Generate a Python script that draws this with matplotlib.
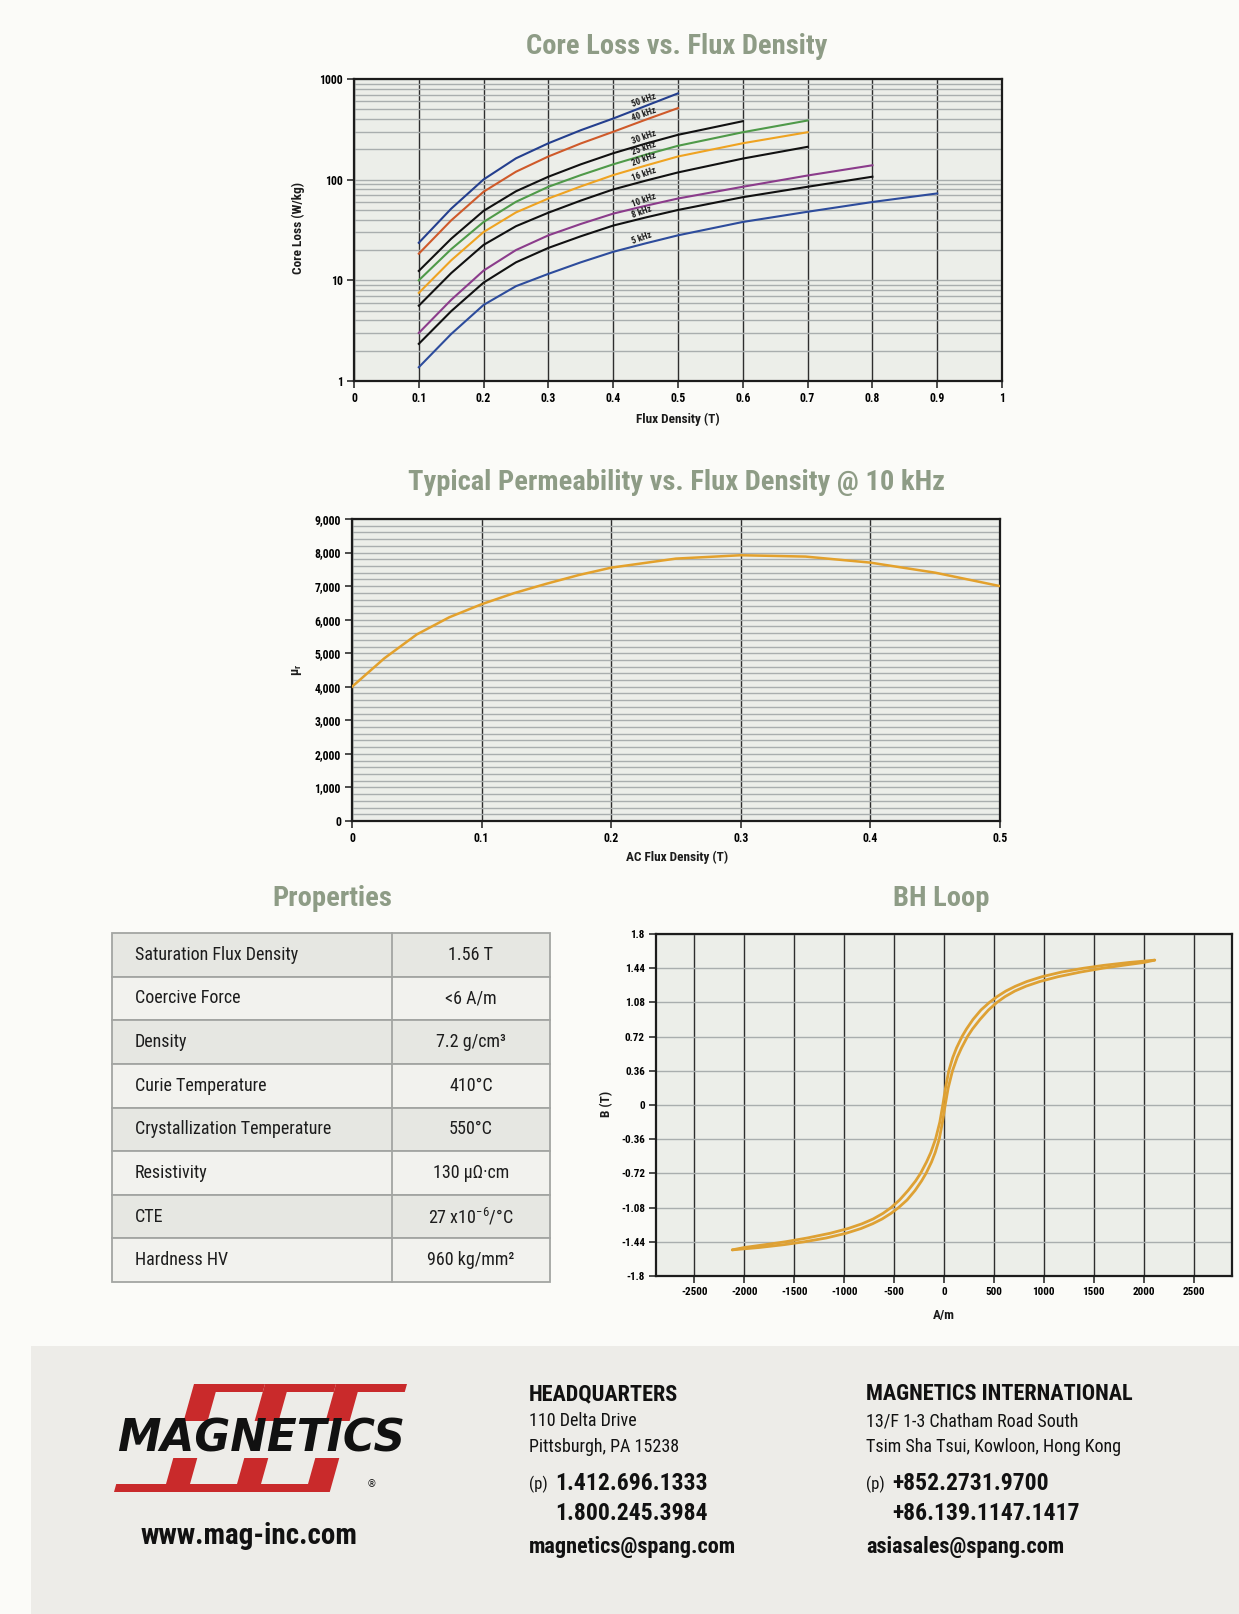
import os
import numpy as np
import matplotlib
matplotlib.use("Agg")
import matplotlib.pyplot as plt
from matplotlib.font_manager import FontProperties, fontManager
from matplotlib.patches import Rectangle, Polygon
from matplotlib.ticker import FixedLocator, NullFormatter, MultipleLocator

# ---------------------------------------------------------------- data
core_flux = [0.1, 0.15, 0.2, 0.25, 0.3, 0.35, 0.4, 0.45, 0.5, 0.6, 0.7, 0.8, 0.9]
loss_50k = [23.6, 51.5, 100.5, 163, 230, 310, 405, 540, 720]
loss_40k = [18.4, 39.4, 75.9, 120, 170, 229, 299, 394, 514]
loss_30k = [12.4, 25.9, 49, 76.7, 107, 142, 183, 228, 279, 381]
loss_25k = [10.0, 20.4, 38, 60.3, 85, 111, 142, 177, 217, 296, 387]
loss_20k = [7.5, 15.8, 30.2, 47.3, 65, 85.7, 111, 138, 170, 230, 296]
loss_16k = [5.6, 11.8, 22.5, 34.5, 47, 62, 80, 97.7, 118, 162, 212]
loss_10k = [3.0, 6.4, 12.5, 20, 28, 36.3, 46, 55, 65, 85, 110, 139]
loss_8k = [2.34, 4.94, 9.5, 15.1, 21, 27.4, 35, 42.1, 50, 67, 85, 107]
loss_5k = [1.37, 2.93, 5.7, 8.75, 11.6, 15.1, 19.2, 23.3, 28, 38, 48, 60, 73]
freq_labels = ["50 kHz", "40 kHz", "30 kHz", "25 kHz", "20 kHz",
               "16 kHz", "10 kHz", "8 kHz", "5 kHz"]

core_xticks = [0, 0.1, 0.2, 0.3, 0.4, 0.5, 0.6, 0.7, 0.8, 0.9, 1.0]
core_xlabels = ["0", "0.1", "0.2", "0.3", "0.4", "0.5", "0.6", "0.7", "0.8", "0.9", "1"]
core_yticks = [1, 10, 100, 1000]
core_ylabels = ["1", "10", "100", "1000"]

perm_flux = [0, 0.025, 0.05, 0.075, 0.1, 0.125, 0.15, 0.175, 0.2,
             0.25, 0.3, 0.35, 0.4, 0.45, 0.5]
perm_mu = [4000, 4850, 5560, 6070, 6460, 6790, 7070, 7330, 7550,
           7820, 7920, 7880, 7700, 7400, 7000]
perm_xticks = [0, 0.1, 0.2, 0.3, 0.4, 0.5]
perm_xlabels = ["0", "0.1", "0.2", "0.3", "0.4", "0.5"]
perm_yticks = [0, 1000, 2000, 3000, 4000, 5000, 6000, 7000, 8000, 9000]
perm_ylabels = ["0", "1,000", "2,000", "3,000", "4,000", "5,000",
                "6,000", "7,000", "8,000", "9,000"]

# descending branch (from +saturation down to -saturation)
bh_desc_B = [1.525, 1.50, 1.47, 1.44, 1.40, 1.35, 1.30, 1.25, 1.20, 1.14, 1.08,
             1.00, 0.90, 0.80, 0.72, 0.60, 0.50, 0.36, 0.18, 0.0,
             -0.18, -0.36, -0.50, -0.60, -0.72, -0.80, -0.90, -1.00, -1.08,
             -1.14, -1.20, -1.25, -1.30, -1.35, -1.40, -1.44, -1.47, -1.50, -1.525]
bh_desc_H = [2110, 1850, 1600, 1400, 1180, 980, 830, 715, 620, 530, 455,
             370, 290, 225, 180, 125, 88, 48, 15, -12,
             -42, -85, -132, -175, -235, -285, -360, -445, -530,
             -610, -710, -820, -960, -1140, -1370, -1590, -1790, -2000, -2120]
# ascending branch (from -saturation up to +saturation)
bh_asc_B = [-1.525, -1.50, -1.47, -1.44, -1.40, -1.35, -1.30, -1.25, -1.20, -1.14,
            -1.08, -1.00, -0.90, -0.80, -0.72, -0.60, -0.50, -0.36, -0.18, 0.0,
            0.18, 0.36, 0.50, 0.60, 0.72, 0.80, 0.90, 1.00, 1.08,
            1.14, 1.20, 1.25, 1.30, 1.35, 1.40, 1.44, 1.47, 1.50, 1.525]
bh_asc_H = [-2120, -1850, -1600, -1400, -1180, -980, -830, -715, -620, -530,
            -455, -370, -290, -225, -180, -125, -88, -48, -15, 12,
            42, 85, 132, 175, 235, 285, 360, 445, 530,
            610, 710, 820, 960, 1140, 1370, 1590, 1790, 2000, 2110]
bh_xticks = [-2500, -2000, -1500, -1000, -500, 0, 500, 1000, 1500, 2000, 2500]
bh_xlabels = ["-2500", "-2000", "-1500", "-1000", "-500", "0",
              "500", "1000", "1500", "2000", "2500"]
bh_yticks = [-1.8, -1.44, -1.08, -0.72, -0.36, 0, 0.36, 0.72, 1.08, 1.44, 1.8]
bh_ylabels = ["-1.8", "-1.44", "-1.08", "-0.72", "-0.36", "0",
              "0.36", "0.72", "1.08", "1.44", "1.8"]

prop_names = ["Saturation Flux Density", "Coercive Force", "Density",
              "Curie Temperature", "Crystallization Temperature",
              "Resistivity", "CTE", "Hardness HV"]
prop_values = ["1.56 T", "<6 A/m", "7.2 g/cm³", "410°C", "550°C",
               "130 μΩ·cm", r"27 x10$^{\mathregular{-6}}$/°C", "960 kg/mm²"]

# ---------------------------------------------------------------- fonts
_by_base = {os.path.basename(f.fname).lower(): f.fname for f in fontManager.ttflist}


def _pick(names, bold):
    for n in names:
        if n.lower() in _by_base:
            return _by_base[n.lower()]
    for base, path in _by_base.items():
        if ("condensed" in base or "narrow" in base) and "italic" not in base \
                and "oblique" not in base and ("bold" in base) == bold \
                and "semi" not in base and "extra" not in base and "light" not in base:
            return path
    return None


REG = _pick(["LiberationSansNarrow-Regular.ttf", "RobotoCondensed-Regular.ttf",
             "NotoSans-Condensed.ttf", "DejaVuSansCondensed.ttf"], False)
BOLD = _pick(["LiberationSansNarrow-Bold.ttf", "RobotoCondensed-Bold.ttf",
              "NotoSans-CondensedBold.ttf", "DejaVuSansCondensed-Bold.ttf"], True)


def fp(bold=False, size=10):
    path = BOLD if bold else REG
    if path:
        return FontProperties(fname=path, size=size)
    return FontProperties(family="DejaVu Sans", weight="bold" if bold else "normal",
                          size=size)


# ---------------------------------------------------------------- colours
PAGE = "#fbfbf8"
PLOT_BG = "#eceee9"
TITLE = "#8e9c86"
VGRID = "#2e2e2e"
HGRID = "#a9aeae"
DARK = "#1c1c1c"
FOOT = "#edece8"
curve_colors = ["#243f8e", "#cf5a2a", "#111111", "#4f9a49", "#efa321",
                "#111111", "#8b3c8b", "#111111", "#2d4c9c"]

W, H = 1239, 1614
DPI = 100
fig = plt.figure(figsize=(W / DPI, H / DPI), dpi=DPI, facecolor=PAGE)

bg = fig.add_axes([0, 0, 1, 1])
bg.set_xlim(0, W)
bg.set_ylim(H, 0)
bg.axis("off")
bg.set_zorder(-5)


def box(l, t, r, b):
    return [l / W, 1 - b / H, (r - l) / W, (b - t) / H]


def frame(ax):
    for s in ax.spines.values():
        s.set_color(DARK)
        s.set_linewidth(1.6)
    ax.tick_params(which="major", direction="out", length=5, width=1.1,
                   color=DARK, pad=3)
    ax.tick_params(which="minor", length=0)


# ================================================================ Core loss
bg.text(677, 46, "Core Loss vs. Flux Density", ha="center", va="center",
        fontproperties=fp(True, 20.5), color=TITLE)
ax1 = fig.add_axes(box(354, 79, 1002, 381))
ax1.set_facecolor(PLOT_BG)
ax1.set_yscale("log")
ax1.set_xlim(0, 1)
ax1.set_ylim(1, 1000)
ax1.yaxis.set_major_locator(FixedLocator(core_yticks))
ax1.yaxis.set_minor_locator(FixedLocator(
    [m * d for d in (1, 10, 100) for m in range(2, 10)]))
ax1.yaxis.set_minor_formatter(NullFormatter())
ax1.set_yticks(core_yticks, core_ylabels, fontproperties=fp(True, 8.5))
ax1.set_xticks(core_xticks, core_xlabels, fontproperties=fp(True, 8.5))
ax1.grid(which="both", axis="y", color=HGRID, lw=1.0)
ax1.grid(which="major", axis="x", color=VGRID, lw=1.0)
ax1.set_axisbelow(True)
frame(ax1)

series = [loss_50k, loss_40k, loss_30k, loss_25k, loss_20k,
          loss_16k, loss_10k, loss_8k, loss_5k]
for vals, c in zip(series, curve_colors):
    ax1.plot(core_flux[:len(vals)], vals, color=c, lw=1.5, zorder=3,
             solid_joinstyle="round")

label_pos = [(0.448, 610), (0.448, 448), (0.448, 262), (0.448, 207), (0.448, 159),
             (0.448, 112), (0.448, 62), (0.444, 48), (0.444, 26.5)]
for txt, (lx, ly) in zip(freq_labels, label_pos):
    ax1.text(lx, ly, txt, rotation=20, ha="center", va="center",
             fontproperties=fp(True, 6.5), color=DARK, zorder=4)

bg.text(298, 228, "Core Loss (W/kg)", rotation=90, ha="center", va="center",
        fontproperties=fp(True, 9.5), color=DARK)
bg.text(678, 419, "Flux Density (T)", ha="center", va="center",
        fontproperties=fp(True, 9.5), color=DARK)

# ================================================================ Permeability
bg.text(677, 483, "Typical Permeability vs. Flux Density @ 10 kHz", ha="center",
        va="center", fontproperties=fp(True, 20.5), color=TITLE)
ax2 = fig.add_axes(box(352, 519, 1000, 821))
ax2.set_facecolor(PLOT_BG)
ax2.set_xlim(0, 0.5)
ax2.set_ylim(0, 9000)
ax2.set_xticks(perm_xticks, perm_xlabels, fontproperties=fp(True, 8.5))
ax2.set_yticks(perm_yticks, perm_ylabels, fontproperties=fp(True, 8.5))
ax2.yaxis.set_minor_locator(MultipleLocator(200))
ax2.grid(which="both", axis="y", color=HGRID, lw=1.0)
ax2.grid(which="major", axis="x", color=VGRID, lw=1.0)
ax2.set_axisbelow(True)
frame(ax2)
ax2.plot(perm_flux, perm_mu, color="#e3a12c", lw=1.8, zorder=3,
         solid_joinstyle="round")
bg.text(297, 670, r"μ$_{\mathregular{r}}$", rotation=90, ha="center", va="center",
        fontproperties=fp(True, 9.5), color=DARK)
bg.text(677, 857, "AC Flux Density (T)", ha="center", va="center",
        fontproperties=fp(True, 9.5), color=DARK)

# ================================================================ Properties table
bg.text(332, 898, "Properties", ha="center", va="center",
        fontproperties=fp(True, 20.5), color=TITLE)
tl, tr, tt, tb, col = 112, 550, 933, 1282, 392
rh = (tb - tt) / len(prop_names)
for i, (k, v) in enumerate(zip(prop_names, prop_values)):
    y0 = tt + i * rh
    bg.add_patch(Rectangle((tl, y0), tr - tl, rh,
                           facecolor="#e6e7e2" if i % 2 == 0 else "#f2f2ee",
                           edgecolor="#a3a5a2", lw=1.3))
    bg.plot([col, col], [y0, y0 + rh], color="#a3a5a2", lw=1.3)
    bg.text(135, y0 + rh / 2, k, ha="left", va="center",
            fontproperties=fp(False, 13), color=DARK)
    bg.text(471, y0 + rh / 2, v, ha="center", va="center",
            fontproperties=fp(False, 13), color=DARK)

# ================================================================ BH loop
bg.text(941, 898, "BH Loop", ha="center", va="center",
        fontproperties=fp(True, 20.5), color=TITLE)
ax3 = fig.add_axes(box(656, 934, 1232, 1276))
ax3.set_facecolor(PLOT_BG)
ax3.set_xlim(-2884, 2884)
ax3.set_ylim(-1.8, 1.8)
ax3.set_xticks(bh_xticks, bh_xlabels, fontproperties=fp(True, 8))
ax3.set_yticks(bh_yticks, bh_ylabels, fontproperties=fp(True, 8))
ax3.grid(which="major", axis="y", color=HGRID, lw=1.0)
ax3.grid(which="major", axis="x", color=VGRID, lw=1.0)
ax3.set_axisbelow(True)
frame(ax3)
ax3.plot(bh_desc_H, bh_desc_B, color="#dea134", lw=2.0, zorder=3,
         solid_joinstyle="round", solid_capstyle="round")
ax3.plot(bh_asc_H, bh_asc_B, color="#dea134", lw=2.0, zorder=3,
         solid_joinstyle="round", solid_capstyle="round")
bg.text(607, 1104, "B (T)", rotation=90, ha="center", va="center",
        fontproperties=fp(True, 9.5), color=DARK)
bg.text(944, 1315, "A/m", ha="center", va="center",
        fontproperties=fp(True, 9.5), color=DARK)

# ================================================================ Footer
bg.add_patch(Rectangle((31, 1346), W - 31, H - 1346, facecolor=FOOT,
                       edgecolor="none"))

RED = "#c92a2b"
slope = 0.28
sp = 71
top_y, mid1, mid2, bot_y = 1384, 1421, 1458, 1492
stem_w, arm_h = 24, 8
for i in range(3):
    x0 = 194 + sp * i

    def xs(y, base=x0):
        return base - slope * (y - top_y)
    right_end = x0 + sp if i < 2 else 407
    bg.add_patch(Polygon([(xs(top_y), top_y), (right_end, top_y),
                          (xs(top_y + arm_h, right_end), top_y + arm_h),
                          (xs(top_y + arm_h) + stem_w, top_y + arm_h),
                          (xs(mid1) + stem_w, mid1), (xs(mid1), mid1)],
                         closed=True, facecolor=RED, edgecolor="none"))
    left_end = 116 if i == 0 else xs(bot_y, x0 - sp) + stem_w
    bg.add_patch(Polygon([(xs(mid2), mid2), (xs(mid2) + stem_w, mid2),
                          (xs(bot_y) + stem_w, bot_y), (left_end - 2, bot_y),
                          (left_end - 2 + slope * arm_h, bot_y - arm_h),
                          (xs(bot_y - arm_h), bot_y - arm_h)],
                         closed=True, facecolor=RED, edgecolor="none"))
bg.text(261, 1439, "MAGNETICS", ha="center", va="center", fontsize=31.5,
        family="DejaVu Sans", weight="bold", style="italic", color="#111111")
bg.text(371, 1484, "®", ha="center", va="center", fontsize=7,
        family="DejaVu Sans", color="#111111")
bg.text(249, 1536, "www.mag-inc.com", ha="center", va="center",
        fontproperties=fp(True, 21), color="#111111")

for x, head, l1, l2, ph1, ph2, mail in [
        (529, "HEADQUARTERS", "110 Delta Drive", "Pittsburgh, PA 15238",
         "1.412.696.1333", "1.800.245.3984", "magnetics@spang.com"),
        (866, "MAGNETICS INTERNATIONAL", "13/F 1-3 Chatham Road South",
         "Tsim Sha Tsui, Kowloon, Hong Kong",
         "+852.2731.9700", "+86.139.1147.1417", "asiasales@spang.com")]:
    bg.text(x, 1394, head, ha="left", va="center", fontproperties=fp(True, 16),
            color="#111111")
    bg.text(x, 1421, l1, ha="left", va="center", fontproperties=fp(False, 13),
            color="#111111")
    bg.text(x, 1447, l2, ha="left", va="center", fontproperties=fp(False, 13),
            color="#111111")
    bg.text(x, 1484, "(p)", ha="left", va="center", fontproperties=fp(False, 12),
            color="#111111")
    bg.text(x + 26, 1484, ph1, ha="left", va="center", fontproperties=fp(True, 17),
            color="#111111")
    bg.text(x + 26, 1513, ph2, ha="left", va="center", fontproperties=fp(True, 17),
            color="#111111")
    bg.text(x, 1547, mail, ha="left", va="center", fontproperties=fp(True, 16),
            color="#111111")

fig.savefig("out.png", dpi=DPI, facecolor=PAGE)
